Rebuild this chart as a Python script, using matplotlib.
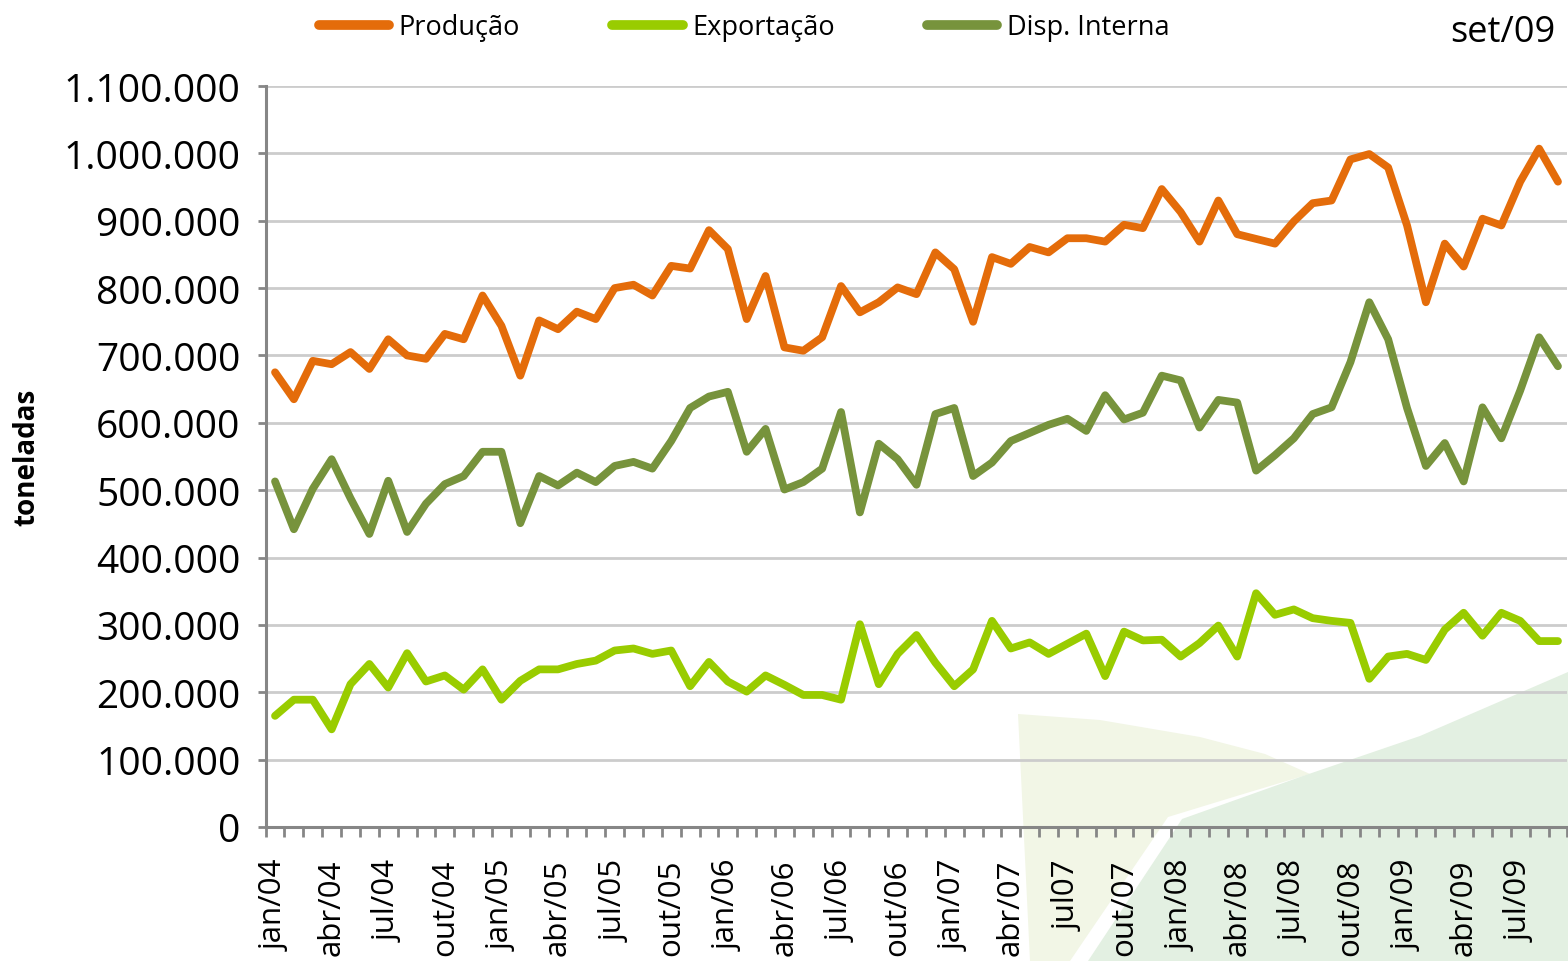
import matplotlib
matplotlib.use("Agg")
import matplotlib.pyplot as plt
from matplotlib.patches import Polygon
from matplotlib.ticker import FuncFormatter, FixedLocator, MultipleLocator

plt.rcParams["font.family"] = ["Open Sans", "DejaVu Sans"]

# ---------------- data ----------------
month_abbr = ["jan", "fev", "mar", "abr", "mai", "jun",
              "jul", "ago", "set", "out", "nov", "dez"]
months = [f"{m}/{y:02d}" for y in range(4, 10) for m in month_abbr][:69]

producao = [675000, 635000, 692000, 687000, 705000, 680000, 724000, 700000, 695000, 732000,
            724000, 789000, 744000, 670000, 752000, 739000, 765000, 754000, 800000, 805000,
            789000, 833000, 829000, 886000, 858000, 754000, 818000, 712000, 707000, 727000,
            803000, 764000, 779000, 801000, 791000, 853000, 828000, 750000, 846000, 836000,
            861000, 853000, 874000, 874000, 869000, 894000, 889000, 947000, 913000, 869000,
            930000, 880000, 873000, 866000, 899000, 926000, 930000, 991000, 999000, 979000,
            893000, 779000, 866000, 832000, 903000, 893000, 958000, 1007000, 958000]

exportacao = [165000, 189000, 189000, 145000, 212000, 242000, 207000, 258000, 216000, 225000,
              204000, 234000, 189000, 217000, 234000, 234000, 242000, 247000, 262000, 265000,
              257000, 262000, 209000, 245000, 216000, 201000, 225000, 211000, 196000, 196000,
              189000, 301000, 212000, 257000, 285000, 244000, 209000, 234000, 306000, 265000,
              274000, 257000, 272000, 287000, 224000, 290000, 277000, 278000, 253000, 273000,
              299000, 253000, 347000, 315000, 323000, 310000, 306000, 303000, 220000, 253000,
              257000, 248000, 293000, 318000, 284000, 318000, 306000, 276000, 276000]

disp_interna = [513000, 442000, 502000, 546000, 488000, 435000, 514000, 438000, 480000, 509000,
                521000, 557000, 557000, 451000, 521000, 507000, 526000, 512000, 536000, 542000,
                532000, 573000, 622000, 639000, 646000, 557000, 591000, 501000, 512000, 532000,
                616000, 467000, 569000, 546000, 508000, 613000, 622000, 521000, 541000, 573000,
                585000, 597000, 606000, 588000, 641000, 605000, 615000, 670000, 663000, 593000,
                634000, 630000, 529000, 552000, 577000, 613000, 623000, 690000, 779000, 724000,
                622000, 536000, 570000, 513000, 623000, 577000, 648000, 727000, 684000]

tick_labels = ["jan/04", "abr/04", "jul/04", "out/04", "jan/05", "abr/05", "jul/05", "out/05",
               "jan/06", "abr/06", "jul/06", "out/06", "jan/07", "abr/07", "jul07", "out/07",
               "jan/08", "abr/08", "jul/08", "out/08", "jan/09", "abr/09", "jul/09"]

series_names = ["Produção", "Exportação", "Disp. Interna"]
series_colors = ["#E46C0A", "#99CC00", "#77933C"]

# ---------------- figure ----------------
W, H = 1568, 962
fig = plt.figure(figsize=(W / 100, H / 100), dpi=100)
fig.patch.set_facecolor("white")

# decorative watermark shapes (background)
bg = fig.add_axes([0, 0, 1, 1], zorder=0)
bg.set_xlim(0, W)
bg.set_ylim(H, 0)
bg.axis("off")
beige = Polygon([(1018, 715), (1100, 721), (1200, 738), (1265, 755), (1310, 775),
                 (1240, 796), (1168, 818), (1070, 962), (1030, 962)],
                closed=True, facecolor="#F2F6E6", edgecolor="none")
green = Polygon([(1088, 962), (1182, 820), (1300, 778), (1420, 737),
                 (1568, 673), (1568, 962)],
                closed=True, facecolor="#E3F0E2", edgecolor="none")
bg.add_patch(beige)
bg.add_patch(green)

left, right, top, bottom = 265.6, 1567.4, 87, 828
ax = fig.add_axes([left / W, 1 - bottom / H, (right - left) / W, (bottom - top) / H], zorder=1)
ax.patch.set_alpha(0)

x = list(range(len(months)))
for vals, name, col in zip([producao, exportacao, disp_interna], series_names, series_colors):
    ax.plot(x, vals, color=col, lw=5.6, label=name,
            solid_joinstyle="round", solid_capstyle="round", zorder=3)

ax.set_xlim(-0.5, len(months) - 0.5)
ax.set_ylim(0, 1100000)
ax.yaxis.set_major_locator(MultipleLocator(100000))
ax.yaxis.set_major_formatter(FuncFormatter(lambda v, p: f"{int(round(v)):,}".replace(",", ".")))
ax.grid(axis="y", color="#CCCCCC", lw=2.0, zorder=1)
ax.set_axisbelow(True)

for s in ["top", "right"]:
    ax.spines[s].set_visible(False)
for s in ["left", "bottom"]:
    ax.spines[s].set_color("#868686")
    ax.spines[s].set_linewidth(2.2)

ax.tick_params(axis="y", direction="out", length=6, width=2, color="#868686",
               labelsize=28, pad=12, labelcolor="black")

tick_idx = list(range(0, len(months), 3))
ax.xaxis.set_major_locator(FixedLocator(tick_idx))
ax.set_xticklabels(tick_labels, rotation=90, fontsize=22.5, va="top", ha="center")
ax.xaxis.set_minor_locator(FixedLocator([i - 0.5 for i in range(len(months) + 1)]))
ax.tick_params(axis="x", which="major", length=0, pad=23)
ax.tick_params(axis="x", which="minor", direction="out", length=7.5, width=2, color="#868686")

ax.set_ylabel("toneladas", fontsize=20, fontweight="bold")
ax.yaxis.set_label_coords(-0.172, 0.5)

leg = fig.legend(loc="center", bbox_to_anchor=(744 / W, 1 - 28 / H), ncol=3, frameon=False,
                 fontsize=19.5, handlelength=2.6, handletextpad=0.35, columnspacing=3.4,
                 borderpad=0)
for h in leg.get_lines():
    h.set_linewidth(7)
    h.set_solid_capstyle("round")

fig.text(1555 / W, 1 - 33 / H, "set/09", fontsize=26, ha="right", va="center")

fig.savefig("out.png", dpi=100)
